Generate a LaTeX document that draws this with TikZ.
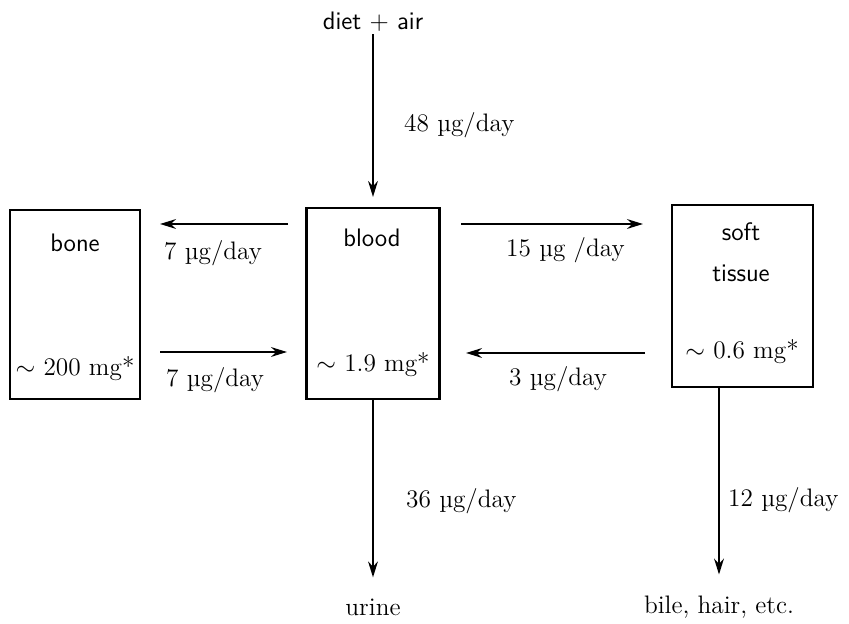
\documentclass[tikz,border=0pt]{standalone}
\usepackage{fontspec}
\usetikzlibrary{arrows.meta}
\begin{document}
\begin{tikzpicture}[x=0.02cm,y=-0.02cm,
    box/.style={draw,line width=1.2pt,inner sep=0pt},
    label node/.style={font=\sffamily\Large},
    rate/.style={font=\Large,anchor=west},
    flow/.style={line width=1.5pt,-{Stealth[length=9pt,width=5.5pt]}}]

    \useasboundingbox (0,0) rectangle (849,624);

    % Define compartments
    \node[box,minimum width=2.6cm,minimum height=3.78cm] (bone) at (75,304.5) {};
    \node[box,minimum width=2.66cm,minimum height=3.82cm] (blood) at (373,303.5) {};
    \node[box,minimum width=2.82cm,minimum height=3.64cm] (soft) at (742.5,296) {};

    \node[label node] (bonename) at (75,243) {bone};
    \node[font=\Large] (bonemass) at (75,369) {$\sim$ 200 mg*};
    \node[label node] (bloodname) at (372,238) {blood};
    \node[font=\Large] (bloodmass) at (373,365) {$\sim$ 1.9 mg*};
    \node[label node] (softname) at (741,232) {soft};
    \node[label node] (tissuename) at (741,273) {tissue};
    \node[font=\Large] (softmass) at (742,352) {$\sim$ 0.6 mg*};

    % Sources and sinks
    \node[label node] (diet) at (373,22) {diet + air};
    \node[font=\Large] (urine) at (373,607) {urine};
    \node[font=\Large] (bile) at (719,607) {bile, hair, etc.};

    % Free ends of the exchange arrows
    \coordinate (bl-w1) at (288,224);
    \coordinate (bo-e1) at (160,224);
    \coordinate (bo-e2) at (160,352);
    \coordinate (bl-w2) at (287,352);
    \coordinate (bl-e1) at (461,224);
    \coordinate (so-w1) at (643,224);
    \coordinate (so-w2) at (645,353);
    \coordinate (bl-e2) at (466,353);

    % Draw flows
    \draw[flow,shorten <=-2pt,shorten >=0.2cm] (diet.south) -- (blood.north);
    \draw[flow,shorten >=0.3cm] (blood.south) -- (blood.south |- urine.north);
    \draw[flow,shorten >=0.3cm] (soft.south -| bile) -- (bile.north);
    \path[flow]
        (bl-w1) edge (bo-e1)
        (bo-e2) edge (bl-w2)
        (bl-e1) edge (so-w1)
        (so-w2) edge (bl-e2);

    % Rates
    \node[rate] (r48) at (398,125) {48 µg/day};
    \node[rate] (r7a) at (158,253) {7 µg/day};
    \node[rate] (r7b) at (160,380) {7 µg/day};
    \node[rate] (r15) at (500,250) {15 µg /day};
    \node[rate] (r3) at (503,379) {3 µg/day};
    \node[rate] (r36) at (400,501) {36 µg/day};
    \node[rate] (r12) at (722,500) {12 µg/day};

\end{tikzpicture}
\end{document}
